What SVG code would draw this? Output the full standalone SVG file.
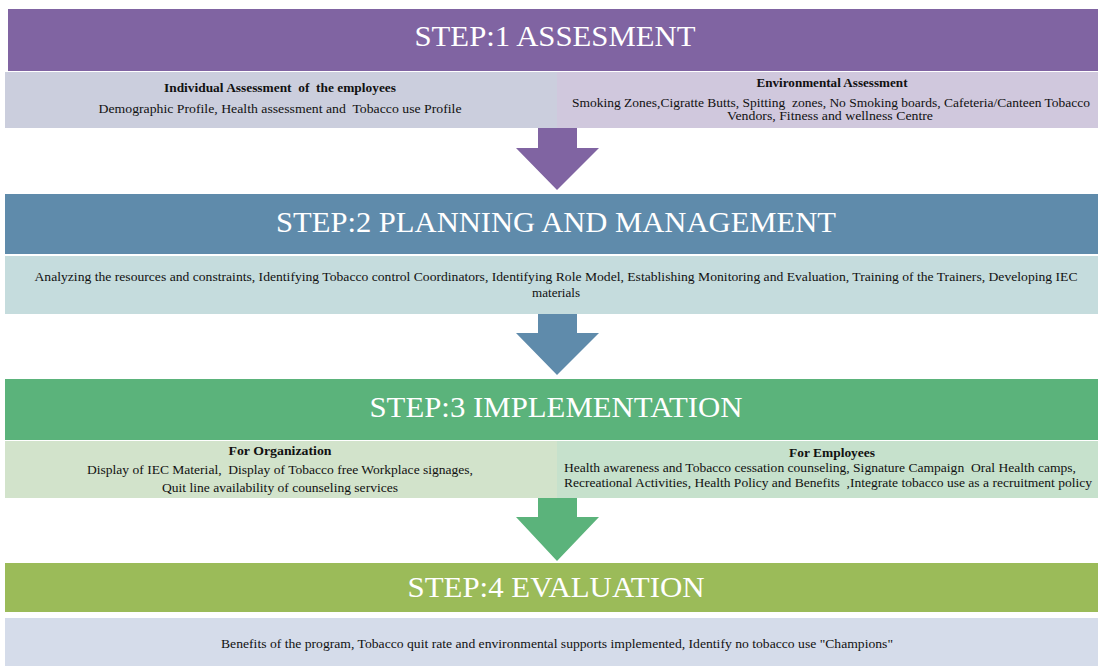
<svg xmlns="http://www.w3.org/2000/svg" width="1098" height="666" viewBox="0 0 1098 666">
<style>
.hdr{font-family:"Liberation Serif","Times New Roman",serif;font-size:30px;fill:#ffffff;text-anchor:middle}
.t{font-family:"Liberation Serif","Times New Roman",serif;font-size:12px;fill:#111111}
.b{font-weight:bold}
.c{text-anchor:middle}
</style>
<rect width="1098" height="666" fill="#ffffff"/>
<g id="step1-header">
<rect x="8" y="9" width="1090" height="62" fill="#8064A2"/>
<text class="hdr" x="555" y="46" textLength="281" lengthAdjust="spacingAndGlyphs">STEP:1 ASSESMENT</text>
</g>
<g id="step1-individual">
<rect x="5" y="72" width="552" height="56" fill="#CBCEDD"/>
<text class="t b c" x="280" y="92" textLength="232" lengthAdjust="spacingAndGlyphs" xml:space="preserve">Individual Assessment  of  the employees</text>
<text class="t c" x="280" y="113" textLength="363" lengthAdjust="spacingAndGlyphs" xml:space="preserve">Demographic Profile, Health assessment and  Tobacco use Profile</text>
</g>
<g id="step1-environmental">
<rect x="557" y="72" width="541" height="56" fill="#D0C8DD"/>
<text class="t b c" x="832" y="87" textLength="151" lengthAdjust="spacingAndGlyphs">Environmental Assessment</text>
<text class="t c" x="831" y="107" textLength="518" lengthAdjust="spacingAndGlyphs" xml:space="preserve">Smoking Zones,Cigratte Butts, Spitting  zones, No Smoking boards, Cafeteria/Canteen Tobacco</text>
<text class="t c" x="830" y="120" textLength="206" lengthAdjust="spacingAndGlyphs">Vendors, Fitness and wellness Centre</text>
</g>
<g id="step2-header">
<rect x="5" y="194" width="1093" height="60" fill="#5F8BAB"/>
<text class="hdr" x="556" y="232" textLength="560" lengthAdjust="spacingAndGlyphs">STEP:2 PLANNING AND MANAGEMENT</text>
</g>
<g id="step2-body">
<rect x="5" y="256" width="1093" height="58" fill="#C5DCDD"/>
<text class="t c" x="556" y="281" textLength="1043" lengthAdjust="spacingAndGlyphs">Analyzing the resources and constraints, Identifying Tobacco control Coordinators, Identifying Role Model, Establishing Monitoring and Evaluation, Training of the Trainers, Developing IEC</text>
<text class="t c" x="556" y="297" textLength="48" lengthAdjust="spacingAndGlyphs">materials</text>
</g>
<g id="step3-header">
<rect x="5" y="379" width="1093" height="61" fill="#5BB37B"/>
<text class="hdr" x="556" y="417" textLength="373" lengthAdjust="spacingAndGlyphs">STEP:3 IMPLEMENTATION</text>
</g>
<g id="step3-organization">
<rect x="5" y="441" width="552" height="57" fill="#D2E3CB"/>
<text class="t b c" x="280" y="455" textLength="103" lengthAdjust="spacingAndGlyphs">For Organization</text>
<text class="t c" x="280" y="474" textLength="386" lengthAdjust="spacingAndGlyphs" xml:space="preserve">Display of IEC Material,  Display of Tobacco free Workplace signages,</text>
<text class="t c" x="280" y="492" textLength="236" lengthAdjust="spacingAndGlyphs">Quit line availability of counseling services</text>
</g>
<g id="step3-employees">
<rect x="557" y="441" width="541" height="57" fill="#C6E1CC"/>
<text class="t b c" x="832" y="457" textLength="86" lengthAdjust="spacingAndGlyphs">For Employees</text>
<text class="t" x="564" y="472" textLength="512" lengthAdjust="spacingAndGlyphs" xml:space="preserve">Health awareness and Tobacco cessation counseling, Signature Campaign  Oral Health camps,</text>
<text class="t" x="564" y="487" textLength="528" lengthAdjust="spacingAndGlyphs" xml:space="preserve">Recreational Activities, Health Policy and Benefits  ,Integrate tobacco use as a recruitment policy</text>
</g>
<g id="step4-header">
<rect x="5" y="563" width="1093" height="49" fill="#9BBB59"/>
<text class="hdr" x="556" y="597" font-size="33" textLength="297" lengthAdjust="spacingAndGlyphs">STEP:4 EVALUATION</text>
</g>
<g id="step4-body">
<rect x="5" y="618" width="1093" height="48" fill="#D5DCEA"/>
<text class="t c" x="557" y="648" textLength="672" lengthAdjust="spacingAndGlyphs">Benefits of the program, Tobacco quit rate and environmental supports implemented, Identify no tobacco use "Champions"</text>
</g>
<g id="connectors">
<polygon points="538,128 577,128 577,148 599,148 557,190 516,148 538,148" fill="#8064A2"/>
<polygon points="538,314 577,314 577,333 599,333 557,375 516,333 538,333" fill="#5F8BAB"/>
<polygon points="538,498 577,498 577,517 599,517 557,561 516,517 538,517" fill="#5BB37B"/>
</g>
</svg>
